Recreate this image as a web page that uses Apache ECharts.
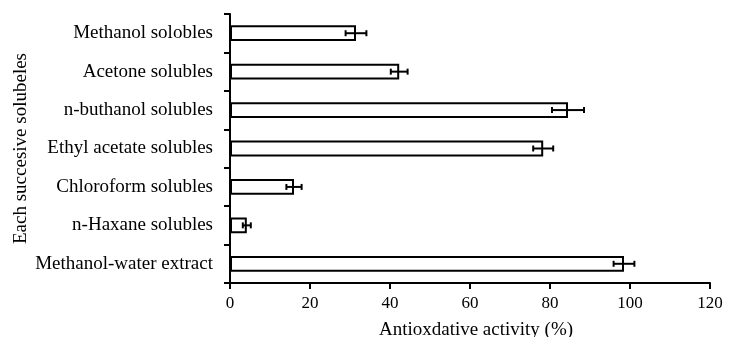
<!DOCTYPE html>
<html>
<head>
<meta charset="utf-8">
<script src="https://cdn.jsdelivr.net/npm/echarts@6.0.0/dist/echarts.min.js"></script>
<style>
  html, body { margin: 0; padding: 0; background: #fff; }
  #chart { width: 735px; height: 337px; }
</style>
</head>
<body>
<div id="chart"></div>
<script>
// bottom to top, as drawn on the y axis
const categories = [
    'Methanol-water extract',
    'n-Haxane solubles',
    'Chloroform solubles',
    'Ethyl acetate solubles',
    'n-buthanol solubles',
    'Acetone solubles',
    'Methanol solobles'
];
const activity = [98.5, 4.2, 16, 78.3, 84.5, 42.3, 31.5];
const errors = [2.6, 1, 1.9, 2.5, 4, 2.1, 2.6];
const xTicks = { min: 0, max: 120, step: 20 };

const font = 'Liberation Serif';

const errorData = activity.map((v, i) => [i, v - errors[i], v + errors[i]]);

const chart = echarts.init(document.getElementById('chart'));

const option = {
    animation: false,
    grid: {
        left: 230,
        right: 25,
        top: 14,
        bottom: 54,
        containLabel: false,
        outerBoundsMode: 'none'
    },
    xAxis: {
        type: 'value',
        min: xTicks.min,
        max: xTicks.max,
        interval: xTicks.step,
        name: 'Antioxdative activity (%)',
        nameLocation: 'middle',
        nameGap: 38,
        nameMoveOverlap: false,
        nameTextStyle: { fontFamily: font, fontSize: 19, color: '#000', padding: [0, 0, 0, 12] },
        axisLine: { show: true, lineStyle: { color: '#000', width: 2 } },
        axisTick: { show: true, length: 6, lineStyle: { color: '#000', width: 2 } },
        axisLabel: { fontFamily: font, fontSize: 17, color: '#000', margin: 12 },
        splitLine: { show: false }
    },
    yAxis: {
        type: 'category',
        data: categories,
        name: 'Each succesive solubeles',
        nameLocation: 'middle',
        nameGap: 199,
        nameMoveOverlap: false,
        nameTextStyle: { fontFamily: font, fontSize: 19, color: '#000' },
        axisLine: { show: true, lineStyle: { color: '#000', width: 2 } },
        axisTick: { show: true, length: 6, lineStyle: { color: '#000', width: 2 } },
        axisLabel: { fontFamily: font, fontSize: 19, color: '#000', margin: 17 },
        splitLine: { show: false }
    },
    series: [
        {
            type: 'bar',
            data: activity,
            barWidth: '41%',
            itemStyle: {
                color: '#fff',
                borderColor: '#000',
                borderWidth: 2
            }
        },
        {
            type: 'custom',
            data: errorData,
            encode: { y: 0, x: [1, 2] },
            z: 5,
            renderItem: function (params, api) {
                const cat = api.value(0);
                const lo = api.coord([api.value(1), cat]);
                const hi = api.coord([api.value(2), cat]);
                const cap = 3;
                const style = { stroke: '#000', lineWidth: 2 };
                return {
                    type: 'group',
                    children: [
                        { type: 'line', shape: { x1: lo[0], y1: lo[1], x2: hi[0], y2: hi[1] }, style: style },
                        { type: 'line', shape: { x1: lo[0], y1: lo[1] - cap, x2: lo[0], y2: lo[1] + cap }, style: style },
                        { type: 'line', shape: { x1: hi[0], y1: hi[1] - cap, x2: hi[0], y2: hi[1] + cap }, style: style }
                    ]
                };
            }
        }
    ]
};

chart.setOption(option);
</script>
</body>
</html>
